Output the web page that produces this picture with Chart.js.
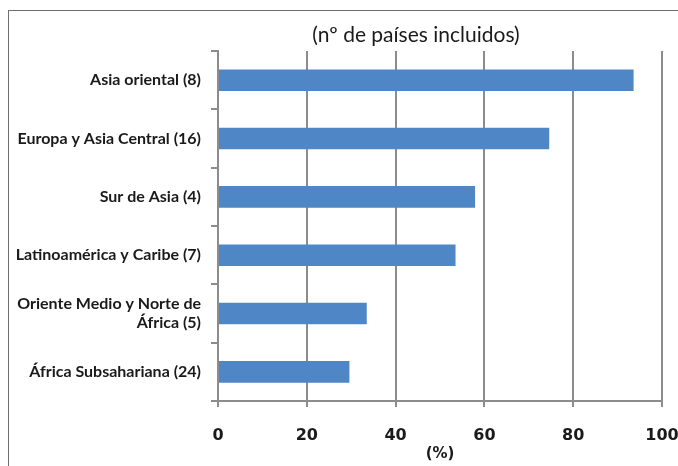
<!DOCTYPE html>
<html>
<head>
<meta charset="utf-8">
<script src="https://cdn.jsdelivr.net/npm/chart.js@4/dist/chart.umd.min.js"></script>
<style>
  html, body { margin: 0; padding: 0; background: #fff; overflow: hidden; }
  #wrap { position: relative; width: 678px; height: 466px; }
  #frame { position: absolute; left: 8px; top: 10px; width: 700px; height: 500px;
           border-left: 1.5px solid #6f6f6f; border-top: 1.5px solid #6f6f6f; pointer-events: none; }
  #title { position: absolute; left: 0; width: 832px; top: 21px; text-align: center;
           font: 21px Lato, sans-serif; color: #1a1a1a; line-height: 26px; }
  #box { position: absolute; left: 0; top: 0; width: 678px; height: 466px; }
</style>
</head>
<body>
<div id="wrap">
  <div id="box"><canvas id="chart"></canvas></div>
  <div id="frame"></div>
  <div id="title">(nº de países incluidos)</div>
</div>
<script>
// Regions (number of countries included)
var regions = [
  'Asia oriental (8)',
  'Europa y Asia Central (16)',
  'Sur de Asia (4)',
  'Latinoamérica y Caribe (7)',
  ['Oriente Medio y Norte de', 'África (5)'],
  'África Subsahariana (24)'
];
// Share (%)
var shares = [93.6, 74.6, 57.9, 53.5, 33.5, 29.6];

var xMin = 0, xMax = 100, xStep = 20;
var xTitle = '(%)';

var GRID = '#8c8c8c';
var BAR = '#4f86c6';
var TEXT = '#1a1a1a';

new Chart(document.getElementById('chart').getContext('2d'), {
  type: 'bar',
  data: {
    labels: regions,
    datasets: [{
      data: shares,
      backgroundColor: BAR,
      borderWidth: 0,
      categoryPercentage: 1,
      barPercentage: 0.37
    }]
  },
  options: {
    indexAxis: 'y',
    responsive: true,
    maintainAspectRatio: false,
    animation: false,
    layout: { padding: { top: 51, right: 16, bottom: 0, left: 0 } },
    plugins: {
      legend: { display: false },
      title: { display: false },
      tooltip: { enabled: false }
    },
    scales: {
      x: {
        min: xMin,
        max: xMax,
        afterFit: function(s) { s.height = 65; s.paddingRight = 0; s.paddingLeft = 0; },
        grid: { color: GRID, lineWidth: 2, tickLength: 6 },
        border: { color: GRID, width: 2 },
        ticks: {
          stepSize: xStep,
          padding: 19,
          color: TEXT,
          font: { family: "'DejaVu Sans', sans-serif", size: 16, weight: 'bold' }
        },
        title: {
          display: true,
          text: xTitle,
          color: TEXT,
          padding: { top: 0, bottom: 3 },
          font: { family: "'DejaVu Sans', sans-serif", size: 15, weight: 'bold' }
        }
      },
      y: {
        afterFit: function(s) { s.width = 218; },
        grid: { drawOnChartArea: false, color: GRID, lineWidth: 2, tickLength: 7 },
        border: { color: GRID, width: 2 },
        ticks: {
          padding: 10,
          color: TEXT,
          font: { family: "Lato, sans-serif", size: 16, weight: 'bold', lineHeight: 1.2 }
        }
      }
    }
  }
});
</script>
</body>
</html>
